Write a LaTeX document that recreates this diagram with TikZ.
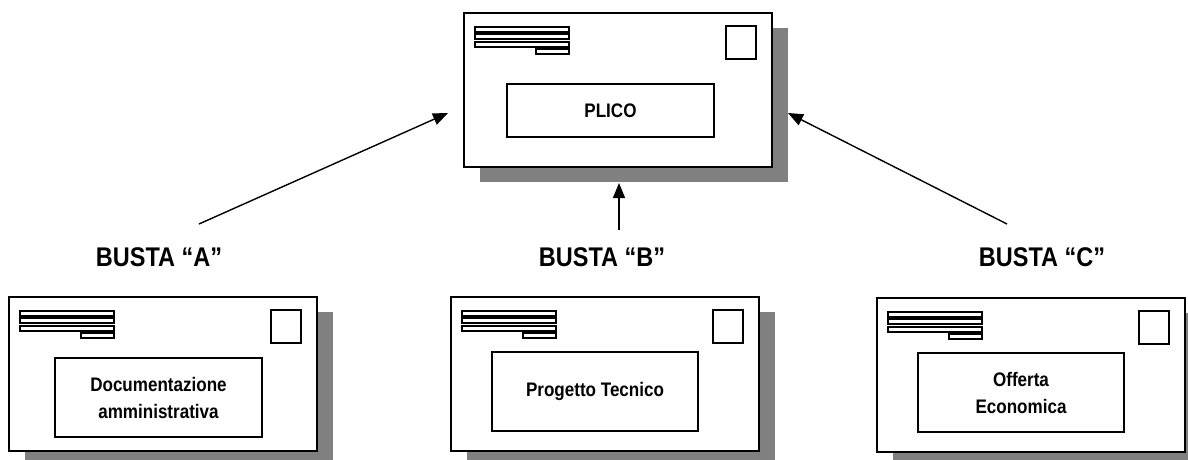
\documentclass[tikz,border=0pt]{standalone}
\usepackage{fontspec}
\setmainfont{Liberation Sans}[FakeStretch=0.87]
\usetikzlibrary{calc}
\usetikzlibrary{shadows}
\usetikzlibrary{arrows.meta}
\newcommand{\contfont}{\fontsize{9.8}{13.5}\selectfont\bfseries}
\newcommand{\labelfont}{\fontsize{13.5}{16}\selectfont\bfseries}
\tikzstyle{busta}=[draw, line width=1pt, fill=white, inner sep=0pt, minimum width=154pt, minimum height=77pt, drop shadow={shadow xshift=8pt, shadow yshift=-7.5pt, fill=black!50, opacity=1}]
\tikzstyle{riga}=[draw, line width=0.8pt, fill=white]
\tikzstyle{francobollo}=[draw, line width=0.9pt, fill=white]
\tikzstyle{contenuto}=[draw, line width=1pt, fill=white, inner sep=0pt, align=center, font=\contfont]
\tikzstyle{etichetta}=[font=\labelfont]
\tikzstyle{freccia}=[-{Triangle[length=7.5pt,width=6pt]}, line width=0.7pt]
% Syntax: {name}{x}{y} of the upper left corner, {x1}{y1}{x2}{y2} of the inner box (relative), {text}
\newcommand{\drawbusta}[8]{
\node[busta, anchor=north west] (#1) at (#2,#3) {};
% address lines
\draw[riga] ($(#1.north west)+(12,15)$) rectangle +(94,5);
\draw[riga] ($(#1.north west)+(12,22)$) rectangle +(94,5);
\draw[riga] ($(#1.north west)+(12,30)$) rectangle +(94,5);
\draw[riga] ($(#1.north west)+(73,37)$) rectangle +(33,5);
% stamp
\draw[francobollo] ($(#1.north west)+(263,14)$) rectangle +(30,33);
\pgfmathsetmacro{\iw}{(#6-#4)*0.5}
\pgfmathsetmacro{\ih}{(#7-#5)*0.5}
\node[contenuto, minimum width=\iw pt, minimum height=\ih pt] (#1-testo) at ($(#1.north west)+({(#4+#6)/2},{(#5+#7)/2})$) {#8};
}

\begin{document}
\begin{tikzpicture}[x=0.5pt, y=-0.5pt]
  \useasboundingbox (0,0) rectangle (1188,460);
  \drawbusta{plico}{463}{12}{44}{72}{251}{125}{PLICO}
  \drawbusta{bustaA}{8}{296}{47}{62}{254}{141}{Documentazione\\amministrativa}
  \drawbusta{bustaB}{450}{296}{42}{56}{248}{135}{Progetto Tecnico}
  \drawbusta{bustaC}{876}{297}{42}{56}{248}{135}{Offerta\\Economica}
  %\draw[red] (0,0) grid[step=50] (1188,460); % use this to debug
  \node[etichetta] (etA) at (159,257) {BUSTA “A”};
  \node[etichetta] (etB) at (602,257) {BUSTA “B”};
  \node[etichetta] (etC) at (1042,257) {BUSTA “C”};
  \coordinate (codaA) at (199,224);
  \coordinate (puntaA) at (448,113);
  \coordinate (codaB) at (619,230);
  \coordinate (puntaB) at (619,183);
  \coordinate (codaC) at (1007,224);
  \coordinate (puntaC) at (788,113);
  \draw[freccia] (codaA) -- (puntaA);
  \draw[freccia] (codaB) -- (puntaB);
  \draw[freccia] (codaC) -- (puntaC);
\end{tikzpicture}
\end{document}
